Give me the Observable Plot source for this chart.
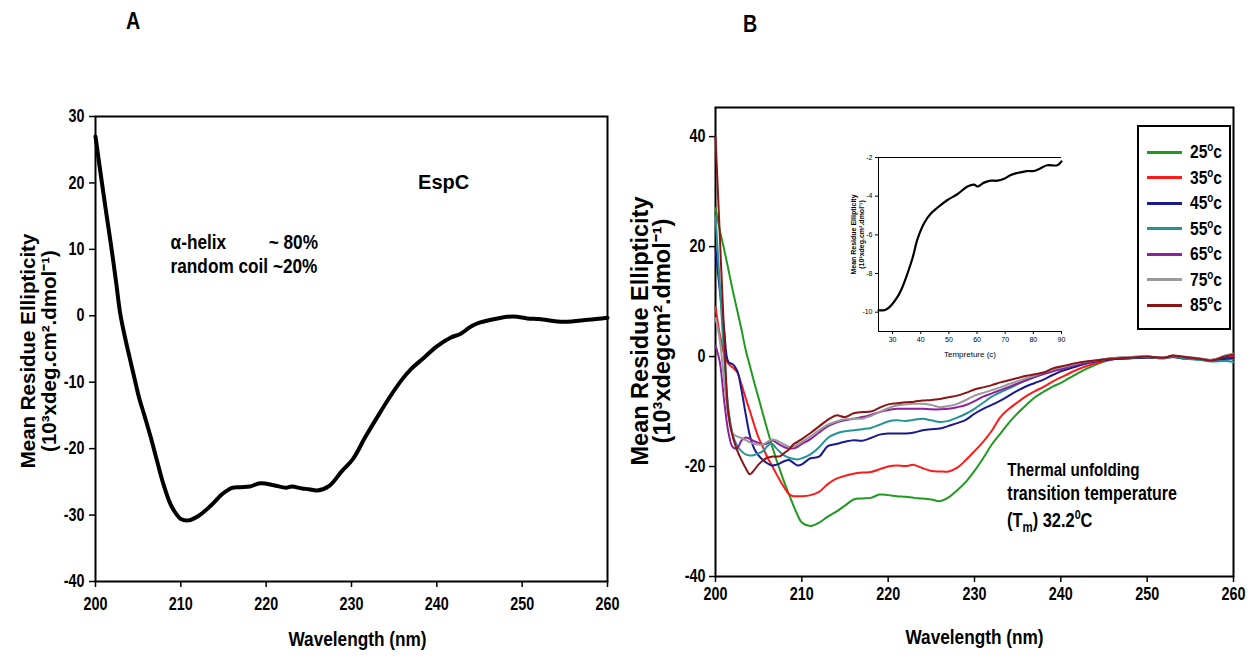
<!DOCTYPE html>
<html><head><meta charset="utf-8">
<script src="https://cdn.jsdelivr.net/npm/d3@7"></script>
<script src="https://cdn.jsdelivr.net/npm/@observablehq/plot@0.6"></script>
<style>
body{margin:0;background:#fff;}
#wrap{position:relative;width:1258px;height:658px;overflow:hidden;background:#fff;}
.abs{position:absolute;}
.narrow{font-family:'Liberation Sans',Arial,sans-serif;font-weight:bold;display:inline-block;transform:scaleX(0.82);transform-origin:0 50%;white-space:nowrap;color:#000;}
</style></head><body><div id="wrap"></div>
<script>
// ---------- Panel A data: EspC CD spectrum ----------
const wlA  = [200,200.6,201.2,201.8,202.4,202.9,203.5,204,204.6,205.1,205.8,206.5,207.2,207.9,208.8,209.5,210,210.9,212.1,213.5,214.9,216,217,218.1,219.3,220.9,222.3,223,224.2,225,226,227.4,228.8,230.2,231.6,233,234.3,235.8,237,238.5,240,241.6,242.8,244,245.1,247.1,249,250.6,252,254.9,257.7,260];
const mreA = [27,21.4,16,10.8,5.2,0.3,-3.5,-6.3,-9.6,-12.3,-15.3,-18.4,-21.8,-25.1,-28.4,-29.9,-30.6,-30.8,-30.1,-28.6,-26.8,-25.9,-25.8,-25.7,-25.2,-25.5,-25.9,-25.7,-26,-26.1,-26.3,-25.6,-23.5,-21.5,-18.3,-15.3,-12.6,-9.8,-8,-6.3,-4.6,-3.3,-2.7,-1.6,-1.0,-0.4,-0.1,-0.4,-0.5,-0.9,-0.6,-0.3];
const xTicks = [200,210,220,230,240,250,260];
const yTicksA = [30,20,10,0,-10,-20,-30,-40];

// ---------- Panel B data: thermal series ----------
const wlB = [200,200.5,201,201.5,202,202.5,203,203.5,204,204.5,205,205.5,206,206.5,207,207.5,208,208.5,209,209.5,210,211,212,213,214,215,216,217,218,219,220,221,222,223,224,225,226,227,228,229,230,231,232,233,234,235,236,237,238,239,240,242,244,246,248,250,252,253,254,256,257.5,259,260];
const mre25 = [27,23,19.5,15.8,12,8.5,5,1.2,-1.8,-4.8,-7.6,-10.5,-13.3,-16,-18.5,-20.8,-23,-25,-27,-28.8,-30.2,-30.8,-30.2,-29.1,-28.2,-27.1,-26,-25.8,-25.7,-25.1,-25.2,-25.4,-25.5,-25.7,-25.8,-26,-26.3,-25.6,-24.3,-22.8,-20.8,-18.5,-16,-14,-12,-10.3,-8.8,-7.4,-6.4,-5.5,-4.8,-3,-1.5,-0.5,-0.3,-0.1,-0.2,0,-0.3,-0.5,-0.8,-0.6,-0.4];
const mre35 = [9,4,0.5,-1.3,-2,-2.8,-5,-7.6,-10,-12.5,-14.8,-16.5,-18.3,-19.7,-21.2,-22.6,-23.9,-25,-25.4,-25.4,-25.4,-25.2,-24.6,-23.2,-22.2,-21.7,-21.3,-21.1,-21,-20.5,-20,-19.8,-19.9,-19.7,-20.3,-20.8,-20.9,-20.9,-20.2,-18.8,-17.2,-15.5,-13.5,-11,-9.5,-8.3,-7.2,-6.3,-5.5,-4.6,-3.8,-2.3,-1.2,-0.5,-0.3,-0.1,-0.2,0.1,-0.2,-0.4,-0.7,-0.3,0];
const mre45 = [19.8,12,5,-1,-1.4,-2.5,-6,-10.5,-14.5,-16.8,-18,-18.8,-19.4,-19.8,-19.7,-19.4,-19,-18.8,-19.3,-19.8,-19.6,-18.5,-18.2,-16.3,-15.9,-15.5,-15.2,-15.3,-14.8,-14.2,-14,-14,-14,-13.8,-13.4,-13.2,-13.1,-12.6,-12.1,-11.5,-10.4,-9.5,-8.8,-8,-7.1,-6.2,-5.4,-4.8,-4.2,-3.4,-2.7,-1.7,-0.9,-0.5,-0.3,-0.2,-0.3,-0.1,-0.3,-0.5,-0.8,-0.4,-0.2];
const mre55 = [25.6,13,0,-9.5,-14.2,-16.2,-17.2,-17.8,-18,-17.9,-17.6,-17.2,-16.3,-15.8,-16.6,-17.4,-18,-18.4,-18.6,-18.7,-18.5,-17.8,-16.5,-14.8,-14,-13.6,-13.4,-13.2,-13,-12.4,-11.8,-11.6,-11.7,-11.5,-11.3,-11.6,-11.9,-11.7,-11.1,-10.4,-9.5,-8.4,-7.3,-6.5,-5.8,-5,-4.3,-3.7,-3.1,-2.6,-2.1,-1.3,-0.7,-0.3,-0.2,-0.1,-0.3,0,-0.3,-0.6,-0.9,-0.8,-1];
const mre65 = [2,-1,-8,-13.8,-16.5,-16.7,-15.3,-14.7,-15,-15.4,-15.7,-16,-15.8,-15.2,-15.6,-16.1,-16.5,-16.7,-16.7,-16.4,-15.9,-15,-13.8,-12.7,-12,-11.6,-11.3,-11,-10.6,-10.1,-9.7,-9.5,-9.5,-9.5,-9.5,-9.6,-9.6,-9.5,-9.2,-8.8,-8.1,-7.3,-6.7,-6.1,-5.5,-4.9,-4.3,-3.7,-3.2,-2.7,-2.3,-1.4,-0.8,-0.3,-0.1,0,-0.2,0.1,-0.1,-0.4,-0.6,0,0.4];
const mre75 = [7,3,-4.5,-11,-14,-14.5,-14.8,-15.2,-15.6,-15.9,-16,-16,-15.5,-15.1,-15.2,-15.6,-16,-16.4,-16.4,-16,-15.5,-14.5,-13.4,-12.4,-11.8,-11.4,-11.3,-11.3,-10.8,-10.1,-9.4,-8.9,-8.7,-8.6,-8.6,-8.8,-9.2,-9,-8.6,-7.9,-7.1,-6.6,-6.1,-5.6,-5,-4.5,-3.9,-3.4,-2.9,-2.4,-2,-1.2,-0.7,-0.3,-0.1,0,-0.2,0.2,0,-0.3,-0.6,0.2,0.5];
const mre85 = [40,22,4,-10.5,-14.6,-17,-18.8,-20.3,-21.4,-20.6,-19.6,-18.9,-18.4,-18.2,-18.2,-18.1,-17.5,-16.9,-16,-15.5,-15,-13.9,-12.7,-11.5,-10.7,-11,-10.3,-10.1,-10,-9.3,-8.7,-8.5,-8.3,-8.2,-8,-7.9,-7.7,-7.4,-7.1,-6.6,-6,-5.6,-5.2,-4.7,-4.3,-3.9,-3.5,-3.2,-2.9,-2.2,-1.8,-1.1,-0.7,-0.4,-0.2,0,-0.2,0.2,0,-0.4,-0.7,0,0.4];
const temps = ["25","35","45","55","65","75","85"];
const seriesB = [mre25, mre35, mre45, mre55, mre65, mre75, mre85];
const colorsB = ["#1f9a1f","#ff1a1a","#1a1a90","#239494","#8e1f9e","#9a9a9a","#8b1515"];
const yTicksB = [40,20,0,-20,-40];

// ---------- Inset data: thermal melt ----------
const tempC = [25,27,28.8,31.8,33.5,35.3,37.1,38.9,41.2,43.6,45.9,49.5,53,56.6,59,60.1,62.5,64.9,67.2,69.6,72,74.3,77.8,80.2,82.6,84.9,88.5,90];
const mreT  = [-9.9,-9.9,-9.75,-9.2,-8.7,-8,-7.2,-6.2,-5.4,-4.9,-4.6,-4.2,-3.9,-3.5,-3.4,-3.5,-3.3,-3.2,-3.2,-3.1,-2.9,-2.8,-2.7,-2.7,-2.55,-2.4,-2.4,-2.2];
const xTicksT = [30,40,50,60,70,80,90];
const yTicksT = [-2,-4,-6,-8,-10];

const SANS = "'Liberation Sans',Arial,sans-serif";
const NARROW_K = 0.82;
const fmt = d => String(d);
const wrap = document.getElementById("wrap");
function place(node, left, top) {
  const d = document.createElement("div");
  d.className = "abs"; d.style.left = left + "px"; d.style.top = top + "px";
  d.appendChild(node); wrap.appendChild(d); return d;
}
// condense text (imitates Arial Narrow) except rotated axis titles and "EspC"
function condense(svg) {
  d3.select(svg).selectAll("text").each(function () {
    const t = this.getAttribute("transform") || "";
    if (t.includes("rotate") || this.textContent === "EspC") return;
    this.setAttribute("transform", t + ` scale(${NARROW_K},1)`);
  });
  return svg;
}

// ---------- Panel A ----------
const dataA = wlA.map((w, i) => ({wl: w, v: mreA[i]}));
const plotA = Plot.plot({
  width: 620, height: 658,
  marginLeft: 95, marginRight: 13, marginTop: 116, marginBottom: 77,
  x: {domain: [200, 260]}, y: {domain: [-40, 30]},
  style: {fontFamily: SANS, fontWeight: "bold", fontSize: "17.5px", background: "transparent", overflow: "visible", color: "black"},
  marks: [
    Plot.frame({stroke: "black", strokeWidth: 2}),
    Plot.axisX({ticks: xTicks, tickFormat: fmt, tickSize: 6, tickPadding: 10, label: null, strokeWidth: 1.5}),
    Plot.axisY({ticks: yTicksA, tickFormat: fmt, tickSize: 6, tickPadding: 5, label: null, strokeWidth: 1.5}),
    Plot.line(dataA, {x: "wl", y: "v", stroke: "black", strokeWidth: 4, curve: "catmull-rom"}),
    Plot.text(["EspC"], {x: 240.8, y: 20, fontSize: 20}),
    Plot.text(["α-helix"], {x: 208.8, y: 11, textAnchor: "start", fontSize: 21}),
    Plot.text(["~ 80%"], {x: 220.3, y: 11, textAnchor: "start", fontSize: 21}),
    Plot.text(["random coil ~20%"], {x: 208.8, y: 7.4, textAnchor: "start", fontSize: 21}),
    Plot.text(["Wavelength (nm)"], {frameAnchor: "bottom", dx: 6, dy: 64, fontSize: 21}),
    Plot.text(["Mean Residue Ellipticity"], {frameAnchor: "left", textAnchor: "middle", rotate: -90, dx: -67, dy: 2, fontSize: 20.5}),
    Plot.text(["(10³xdeg.cm².dmol⁻¹)"], {frameAnchor: "left", textAnchor: "middle", rotate: -90, dx: -46, dy: 2, fontSize: 20.5})
  ]
});
place(condense(plotA), 0, 0);

// ---------- Panel B ----------
const dataB = [];
temps.forEach((t, k) => wlB.forEach((w, i) => dataB.push({wl: w, v: seriesB[k][i], temp: t})));
const plotB = Plot.plot({
  width: 658, height: 658,
  marginLeft: 115, marginRight: 25, marginTop: 107, marginBottom: 82,
  x: {domain: [200, 260]}, y: {domain: [-40, 45.3]},
  color: {domain: temps, range: colorsB},
  style: {fontFamily: SANS, fontWeight: "bold", fontSize: "17.5px", background: "transparent", overflow: "visible", color: "black"},
  marks: [
    Plot.frame({stroke: "black", strokeWidth: 2}),
    Plot.axisX({ticks: xTicks, tickFormat: fmt, tickSize: 6, tickPadding: 5, label: null, strokeWidth: 1.5}),
    Plot.axisY({ticks: yTicksB, tickFormat: fmt, tickSize: 6, tickPadding: 4, label: null, strokeWidth: 1.5}),
    Plot.line(dataB, {x: "wl", y: "v", z: "temp", stroke: "temp", strokeWidth: 2, curve: "catmull-rom"}),
    Plot.text(["Thermal unfolding"], {x: 233.8, y: -20.7, textAnchor: "start", fontSize: 18.5}),
    Plot.text(["transition temperature"], {x: 233.8, y: -24.9, textAnchor: "start", fontSize: 19.5}),
    Plot.text(["Wavelength (nm)"], {frameAnchor: "bottom", dy: 67, fontSize: 21}),
    Plot.text(["Mean Residue Ellipticity"], {frameAnchor: "left", textAnchor: "middle", rotate: -90, dx: -75, dy: -11, fontSize: 23.5}),
    Plot.text(["(10³xdegcm².dmol⁻¹)"], {frameAnchor: "left", textAnchor: "middle", rotate: -90, dx: -53, dy: -11, fontSize: 23.5})
  ]
});
place(condense(plotB), 600, 0);

// Tm annotation (needs sub/superscript)
const tm = document.createElement("span");
tm.className = "narrow";
tm.style.cssText = "font-size:20px;line-height:20px;";
tm.innerHTML = "(T<sub style='font-size:14px'>m</sub>) 32.2<sup style='font-size:13px'>0</sup>C";
place(tm, 1007, 505);

// ---------- Inset ----------
const dataT = tempC.map((t, i) => ({t, v: mreT[i]}));
const plotT = Plot.plot({
  width: 240, height: 240,
  marginLeft: 48, marginRight: 9, marginTop: 17, marginBottom: 49,
  x: {domain: [25, 90]}, y: {domain: [-11, -2]},
  style: {fontFamily: SANS, fontSize: "7px", background: "transparent", overflow: "visible", color: "black"},
  marks: [
    Plot.ruleY([-11, -2], {stroke: "black", strokeWidth: 1}),
    Plot.ruleX([25], {stroke: "black", strokeWidth: 1}),
    Plot.axisX({ticks: xTicksT, tickFormat: fmt, tickSize: 3, tickPadding: 3, label: null}),
    Plot.axisY({ticks: yTicksT, tickFormat: fmt, tickSize: 3, tickPadding: 3, label: null}),
    Plot.line(dataT, {x: "t", y: "v", stroke: "black", strokeWidth: 2.2, curve: "catmull-rom"}),
    Plot.text(["Tempreture (c)"], {frameAnchor: "bottom", dy: 25, fontSize: 8}),
    Plot.text(["Mean Residue Ellipticity"], {frameAnchor: "left", textAnchor: "middle", rotate: -90, dx: -25, dy: -10, fontSize: 7, fontWeight: "bold"}),
    Plot.text(["(10³xdeg.cm².dmol⁻¹)"], {frameAnchor: "left", textAnchor: "middle", rotate: -90, dx: -17, dy: -10, fontSize: 7, fontWeight: "bold"})
  ]
});
place(plotT, 830, 140);

// ---------- Legend ----------
const leg = document.createElement("div");
leg.style.cssText = "box-sizing:border-box;width:94px;height:205px;border:2px solid #000;background:#fff;position:relative";
temps.forEach((t, k) => {
  const row = document.createElement("div");
  row.style.cssText = `position:absolute;left:8px;top:${13 + k * 25.5}px;height:24px;display:flex;align-items:center;`;
  row.innerHTML = `<span style="display:inline-block;width:35px;height:3px;background:${colorsB[k]};margin-right:8px"></span>` +
    `<span class="narrow" style="font-size:19px">${t}<sup style="font-size:12px">o</sup>c</span>`;
  leg.appendChild(row);
});
place(leg, 1137, 125);

// ---------- Panel letters ----------
const la = document.createElement("span"); la.className = "narrow"; la.style.fontSize = "24px"; la.textContent = "A";
place(la, 126, 7);
const lb = document.createElement("span"); lb.className = "narrow"; lb.style.fontSize = "24px"; lb.textContent = "B";
place(lb, 743, 10);
</script>
</body></html>
